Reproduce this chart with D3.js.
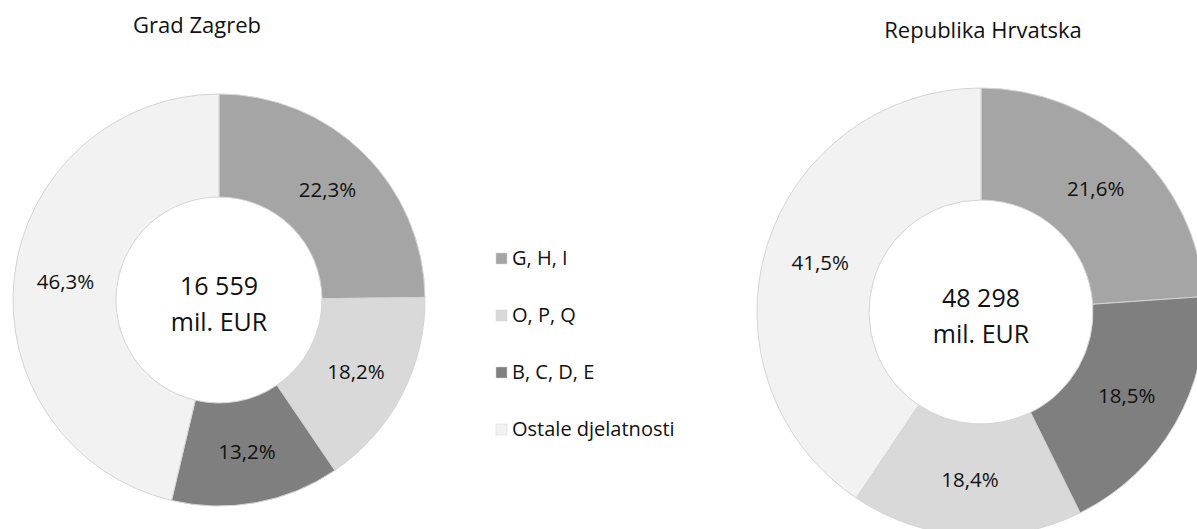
<!DOCTYPE html>
<html>
<head>
<meta charset="utf-8">
<script src="https://cdn.jsdelivr.net/npm/d3@7"></script>
<style>
  html, body { margin: 0; padding: 0; background: #fff; }
  #root { width: 1197px; height: 529px; }
  text { font-family: 'Open Sans', 'Noto Sans', sans-serif; fill: #111; }
</style>
</head>
<body>
<div id="root"></div>
<script>
const categories = ['G, H, I', 'O, P, Q', 'B, C, D, E', 'Ostale djelatnosti']
const colors = ['#a5a5a5', '#d9d9d9', '#7f7f7f', '#f2f2f2']

// slice sizes as drawn in the picture (they do not quite match the printed labels)
const zagrebSlices = [24.8, 15.7, 13.2, 46.3]
const hrvatskaSlices = [23.9, 16.7, 18.8, 40.6]

// labels as printed on the slices
const zagrebLabels = ['22,3%', '18,2%', '13,2%', '46,3%']
const hrvatskaLabels = ['21,6%', '18,4%', '18,5%', '41,5%']

const titles = ['Grad Zagreb', 'Republika Hrvatska']
const totals = ['16 559', '48 298']
const unit = 'mil. EUR'

const div = document.getElementById('root')
const width = 1197
const height = 529

const svg = d3.select(div).append('svg')
  .attr('width', width)
  .attr('height', height)

const color = d3.scaleOrdinal().domain(categories).range(colors)

// the "other" slice always last, the rest biggest first
const pie = d3.pie()
  .value(d => d.value)
  .sort((a, b) => {
    if (a.cat === categories[3]) return 1
    if (b.cat === categories[3]) return -1
    return b.value - a.value
  })

const charts = [
  { title: titles[0], total: totals[0], slices: zagrebSlices, labels: zagrebLabels, cx: 219, cy: 300, r: 206, titleX: 197, titleY: 33 },
  { title: titles[1], total: totals[1], slices: hrvatskaSlices, labels: hrvatskaLabels, cx: 981, cy: 312, r: 224, titleX: 983, titleY: 38 }
]

charts.forEach(c => {
  const data = categories.map((cat, i) => ({ cat: cat, value: c.slices[i], label: c.labels[i] }))
  const arc = d3.arc().innerRadius(c.r * 0.5).outerRadius(c.r)
  const labelArc = d3.arc().innerRadius(c.r * 0.75).outerRadius(c.r * 0.75)

  svg.append('text')
    .attr('x', c.titleX)
    .attr('y', c.titleY)
    .attr('text-anchor', 'middle')
    .style('font-size', '22px')
    .text(c.title)

  const g = svg.append('g').attr('transform', `translate(${c.cx},${c.cy})`)

  const arcs = pie(data)

  g.selectAll('path')
    .data(arcs)
    .enter()
    .append('path')
    .attr('d', arc)
    .attr('fill', d => color(d.data.cat))
    .attr('stroke', '#d4d4d4')
    .attr('stroke-width', 1)

  g.selectAll('text.pct')
    .data(arcs)
    .enter()
    .append('text')
    .attr('class', 'pct')
    .attr('transform', d => `translate(${labelArc.centroid(d)})`)
    .attr('text-anchor', 'middle')
    .attr('dy', '0.35em')
    .style('font-size', '20.5px')
    .text(d => d.data.label)

  g.append('text')
    .attr('text-anchor', 'middle')
    .attr('y', -5)
    .style('font-size', '25px')
    .text(c.total)

  g.append('text')
    .attr('text-anchor', 'middle')
    .attr('y', 31)
    .style('font-size', '25px')
    .text(unit)
})

const legend = svg.append('g').attr('transform', 'translate(496,258)')

const item = legend.selectAll('g')
  .data(categories)
  .enter()
  .append('g')
  .attr('transform', (d, i) => `translate(0,${i * 57})`)

item.append('rect')
  .attr('x', 0)
  .attr('y', -5)
  .attr('width', 11)
  .attr('height', 11)
  .attr('fill', d => color(d))
  .attr('stroke', '#d4d4d4')
  .attr('stroke-width', 0.5)

item.append('text')
  .attr('x', 16)
  .attr('dy', '0.35em')
  .style('font-size', '20px')
  .text(d => d)
</script>
</body>
</html>
